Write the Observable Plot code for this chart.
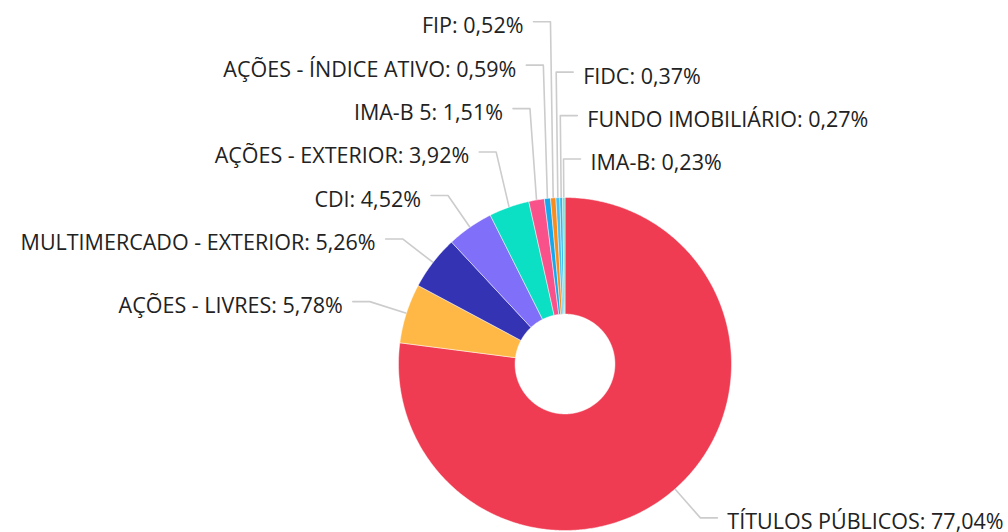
<!DOCTYPE html>
<html>
<head>
<meta charset="utf-8">
<script src="https://cdn.jsdelivr.net/npm/d3@7"></script>
<script src="https://cdn.jsdelivr.net/npm/@observablehq/plot@0.6"></script>
<style>
  html, body { margin: 0; padding: 0; background: #fff; }
  #chart svg { display: block; }
</style>
</head>
<body>
<div id="chart"></div>
<script>
// ---- Data ----
const categories = ["TÍTULOS PÚBLICOS", "AÇÕES - LIVRES", "MULTIMERCADO - EXTERIOR", "CDI", "AÇÕES - EXTERIOR", "IMA-B 5", "AÇÕES - ÍNDICE ATIVO", "FIP", "FIDC", "FUNDO IMOBILIÁRIO", "IMA-B"];
const values = [77.04, 5.78, 5.26, 4.52, 3.92, 1.51, 0.59, 0.52, 0.37, 0.27, 0.23];
const colors = ["#EF3C52", "#FFB845", "#3333B3", "#806FF8", "#0BDFC4", "#F9528A", "#17A8EB", "#F98C1F", "#46C0F3", "#2DB8E6", "#7ED9C8"];

// ---- Layout constants (units of outer radius) ----
const INNER = 0.30;      // donut hole
const LABEL_R = 1.231;   // connector elbow radius
const HOOK = 0.102;      // horizontal connector length
const GAP = 0.261;       // minimum vertical spacing between labels
const FONT = 21.5;

const total = d3.sum(values);
let acc = 0;
const slices = categories.map((c, i) => {
  const a0 = acc / total * 2 * Math.PI;
  acc += values[i];
  const a1 = acc / total * 2 * Math.PI;
  return {key: c, value: values[i], a0, a1, mid: (a0 + a1) / 2};
});

// slice polygons
const slicePts = [];
for (const s of slices) {
  const n = Math.max(2, Math.ceil((s.a1 - s.a0) / (Math.PI / 360)));
  const pts = [];
  for (let k = 0; k <= n; k++) {
    const a = s.a0 + (s.a1 - s.a0) * k / n;
    pts.push({key: s.key, x: Math.sin(a), y: Math.cos(a)});
  }
  for (let k = n; k >= 0; k--) {
    const a = s.a0 + (s.a1 - s.a0) * k / n;
    pts.push({key: s.key, x: INNER * Math.sin(a), y: INNER * Math.cos(a)});
  }
  pts.push({...pts[0]});
  slicePts.push(...pts);
}

// label layout
const fmt = v => v.toFixed(2).replace(".", ",") + "%";
const labels = slices.map(s => {
  const right = s.mid < Math.PI || s.mid > 2 * Math.PI * 0.9915;
  return {
    key: s.key,
    text: `${s.key}: ${fmt(s.value)}`,
    mid: s.mid,
    side: right ? "right" : "left",
    // clockwise position along the side, top to bottom
    order: right ? (s.mid > Math.PI ? s.mid - 2 * Math.PI : s.mid) : -s.mid,
    ideal: LABEL_R * Math.cos(s.mid)
  };
});
for (const side of ["left", "right"]) {
  // bottom to top
  const group = labels.filter(l => l.side === side).sort((a, b) => b.order - a.order);
  let prev = -Infinity;
  for (const l of group) {
    l.y = Math.max(l.ideal, prev + GAP);
    prev = l.y;
  }
}
const connPts = [];
for (const l of labels) {
  const dir = l.side === "left" ? -1 : 1;
  const ex = LABEL_R * Math.sin(l.mid);
  l.x = ex + dir * HOOK;
  connPts.push({key: l.key, x: Math.sin(l.mid), y: Math.cos(l.mid)});
  connPts.push({key: l.key, x: ex, y: l.y});
  connPts.push({key: l.key, x: l.x, y: l.y});
}

const chart = Plot.plot({
  width: 1008,
  height: 532,
  marginLeft: 398,
  marginRight: 277,
  marginTop: 197,
  marginBottom: 2,
  x: {domain: [-1, 1], axis: null},
  y: {domain: [-1, 1], axis: null},
  color: {domain: categories, range: colors},
  style: {fontFamily: "'Open Sans', sans-serif", fontSize: FONT + "px", color: "#222", background: "#fff", overflow: "visible"},
  marks: [
    Plot.line(connPts, {x: "x", y: "y", z: "key", stroke: "#cccccc", strokeWidth: 1.6}),
    Plot.line(slicePts, {x: "x", y: "y", z: "key", fill: "key", stroke: "#ffffff", strokeWidth: 0.6, strokeOpacity: 0.8}),
    Plot.text(labels.filter(l => l.side === "left"), {x: "x", y: "y", text: "text", textAnchor: "end", lineAnchor: "middle", dx: -10, dy: 4.5, fill: "#222", fontSize: FONT}),
    Plot.text(labels.filter(l => l.side === "right"), {x: "x", y: "y", text: "text", textAnchor: "start", lineAnchor: "middle", dx: 10, dy: 4.5, fill: "#222", fontSize: FONT})
  ]
});
document.getElementById("chart").appendChild(chart);
</script>
</body>
</html>
